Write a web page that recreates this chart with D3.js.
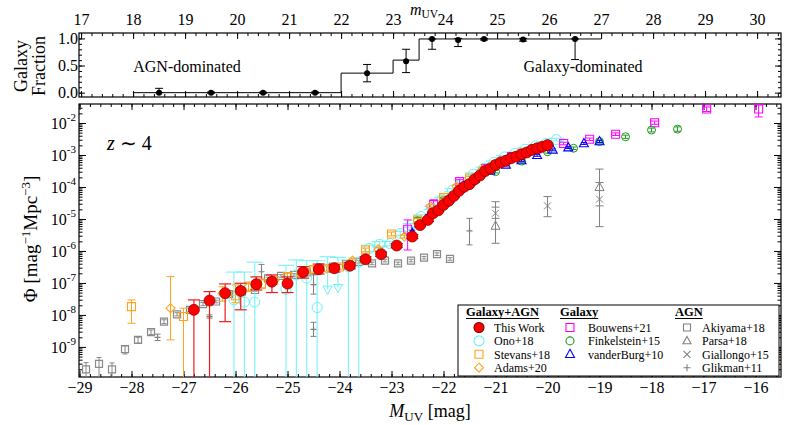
<!DOCTYPE html>
<html>
<head>
<meta charset="utf-8">
<title>UV luminosity function z~4</title>
<script src="https://d3js.org/d3.v7.min.js"></script>
<style>
  body { margin: 0; background: #fff; }
  text { font-family: 'Liberation Serif', 'Times New Roman', serif; }
</style>
</head>
<body>
<script>
// ---- data (M_UV in mag, log10 Phi in mag^-1 Mpc^-3, errors in dex; 9 = down to axis) ----
var thisM = [-26.8,-26.5,-26.2,-25.9,-25.6,-25.3,-25.0,-24.7,-24.4,-24.1,-23.8,-23.5,-23.2,-22.9,-22.6,-22.45,-22.3,
  -22.2,-22.1,-22.0,-21.9,-21.8,-21.7,-21.6,-21.5,-21.4,-21.3,-21.2,-21.1,-21.0,-20.9,-20.8,-20.7,-20.6,-20.5,-20.4,-20.3,-20.2,-20.1,-20.0];
var thisLog = [-7.84,-7.55,-7.32,-7.25,-7.04,-6.96,-7.02,-6.66,-6.57,-6.54,-6.46,-6.26,-6.10,-5.83,-5.55,-5.19,-5.03,
  -4.82,-4.73,-4.56,-4.43,-4.28,-4.12,-3.99,-3.91,-3.76,-3.64,-3.50,-3.42,-3.31,-3.23,-3.18,-3.10,-3.05,-2.98,-2.92,-2.84,-2.79,-2.74,-2.69];
var thisUp = [0.31,0.28,0.29,0.24,0.23,0.21,0.21,0.17,0.16,0.12,0.10,0.08,0.07,0.06,0.06,0.05,0.05,
  0.04,0.04,0.04,0.04,0.04,0.04,0.04,0.04,0.03,0.03,0.03,0.03,0.03,0.03,0.03,0.03,0.03,0.03,0.03,0.03,0.03,0.03,0.03];
var thisLo = [9,9,0.89,0.59,0.18,0.34,0.28,0.19,0.15,0.12,0.10,0.08,0.07,0.06,0.06,0.05,0.05,
  0.04,0.04,0.04,0.04,0.04,0.04,0.04,0.04,0.03,0.03,0.03,0.03,0.03,0.03,0.03,0.03,0.03,0.03,0.03,0.03,0.03,0.03,0.03];

var onoM = [-26.03,-25.83,-25.63,-25.03,-24.83,-24.63,-24.43,-24.23,-24.03,-23.83,-23.63,-23.43,-23.23,-23.03,-22.83,
  -22.63,-22.43,-22.23,-22.03,-21.83,-21.63,-21.43,-21.23,-21.03,-20.83,-20.63,-20.43,-20.23,-20.03,-19.83];
var onoLog = [-7.53,-7.60,-7.60,-7.20,-6.75,-6.85,-7.77,-7.20,-7.15,-6.50,-6.35,-5.92,-5.79,-5.77,-5.45,
  -5.20,-4.92,-4.65,-4.38,-4.10,-3.85,-3.60,-3.42,-3.23,-3.06,-2.95,-2.82,-2.72,-2.64,-2.52];
var onoUp = [0.87,0.94,1.25,0.75,0.47,0.55,1.47,1.02,0.95,0.22,0.10,0.10,0.08,0.07,0.06,
  0.06,0.05,0.05,0.05,0.05,0.05,0.04,0.04,0.04,0.04,0.04,0.04,0.04,0.04,0.04];
var onoLo = [9,9,9,9,9,9,9,0,0,9,9,0.10,0.08,0.07,0.06,
  0.06,0.05,0.05,0.05,0.05,0.05,0.04,0.04,0.04,0.04,0.04,0.04,0.04,0.04,0.04];
var onoLimit = [0,0,0,0,0,0,0,1,1,0,0,0,0,0,0,0,0,0,0,0,0,0,0,0,0,0,0,0,0,0];

var stevM = [-28.0,-27.0,-26.0,-25.5,-25.0,-24.5,-24.0,-23.5,-23.0,-22.5,-22.0,-21.5,-21.0,-20.5];
var stevLog = [-7.74,-8.05,-7.40,-7.03,-6.80,-6.58,-6.50,-5.97,-5.47,-5.03,-4.33,-3.72,-3.30,-2.95];
var stevUp = [0.21,0.26,0.34,0.15,0.10,0.08,0.07,0.06,0.06,0.05,0.05,0.05,0.05,0.05];
var stevLo = [0.52,9,0.22,0.15,0.10,0.08,0.07,0.06,0.06,0.05,0.05,0.05,0.05,0.05];

var adamsM = [-27.25,-26.25,-25.75,-25.25,-24.75,-24.25,-23.75,-23.25,-22.75,-22.25,-21.75,-21.25];
var adamsLog = [-7.79,-7.32,-7.12,-6.92,-6.72,-6.55,-6.30,-5.95,-5.55,-4.60,-3.98,-3.45];
var adamsUp = [0.99,0.20,0.15,0.12,0.10,0.08,0.07,0.06,0.05,0.05,0.05,0.05];
var adamsLo = [0.99,0.25,0.15,0.12,0.10,0.08,0.07,0.06,0.05,0.05,0.05,0.05];

var bouM = [-22.69,-22.19,-21.69,-21.19,-20.69,-20.19,-19.69,-19.19,-18.69,-17.94,-16.94,-15.94];
var bouLog = [-5.32,-4.55,-3.83,-3.42,-3.05,-2.80,-2.64,-2.51,-2.35,-1.99,-1.56,-1.56];
var bouUp = [0.29,0.15,0.07,0.05,0.04,0.04,0.04,0.04,0.04,0.05,0.06,0.14];
var bouLo = [0.65,0.20,0.08,0.05,0.04,0.04,0.04,0.04,0.04,0.05,0.08,0.25];

var finkM = [-22.5,-22.0,-21.5,-21.0,-20.5,-20.0,-19.5,-19.0,-18.5,-18.0,-17.5];
var finkLog = [-5.05,-4.42,-3.95,-3.52,-3.19,-2.90,-2.79,-2.58,-2.43,-2.22,-2.19];
var finkErr = [0.10,0.06,0.05,0.04,0.04,0.04,0.04,0.05,0.05,0.06,0.07];

var vdbM = [-22.6,-22.3,-22.0,-21.7,-21.4,-21.1,-20.8,-20.5,-20.2,-19.9,-19.6,-19.3,-19.0];
var vdbLog = [-5.45,-4.95,-4.50,-4.05,-3.75,-3.50,-3.31,-3.17,-3.01,-2.84,-2.77,-2.64,-2.58];
var vdbErr = [0.10,0.08,0.06,0.05,0.04,0.04,0.03,0.03,0.03,0.03,0.03,0.03,0.03];

var akiM = [-28.875,-28.625,-28.375,-28.125,-27.875,-27.625,-27.375,-27.125,-26.875,-26.625,-26.375,-26.125,-25.875,-25.625,
  -25.375,-25.125,-24.875,-24.625,-24.375,-24.125,-23.875,-23.625,-23.375,-23.125,-22.875,-22.625,-22.375,-22.125,-21.875];
var akiLog = [-9.70,-9.53,-9.70,-9.07,-8.78,-8.54,-8.21,-7.98,-7.84,-7.66,-7.58,-7.35,-7.27,-7.22,
  -6.86,-6.78,-6.75,-6.67,-6.51,-6.49,-6.41,-6.34,-6.39,-6.30,-6.39,-6.30,-6.21,-6.10,-6.25];
var akiUp = [0.21,0.20,0.20,0.10,0.08,0.07,0.06,0.05,0.05,0.05,0.04,0.04,0.04,0.04,
  0.04,0.04,0.04,0.04,0.04,0.04,0.04,0.04,0.04,0.04,0.04,0.04,0.04,0.04,0.04];
var akiLo = [9,9,9,0.15,0.10,0.07,0.06,0.05,0.05,0.05,0.04,0.04,0.04,0.04,
  0.04,0.04,0.04,0.04,0.04,0.04,0.04,0.04,0.04,0.04,0.04,0.04,0.04,0.04,0.04];

var parsaM = [-21.0,-19.0];
var parsaLog = [-5.22,-4.01];
var parsaUp = [0.76,0.57];
var parsaLo = [0.54,1.23];

var gialM = [-21.0,-20.0,-19.0];
var gialLog = [-4.82,-4.59,-4.38];
var gialUp = [0.19,0.29,0.52];
var gialLo = [0.16,0.34,0.21];

var glikM = [-27.5,-26.5,-25.5,-24.5,-24.5,-21.5];
var glikLog = [-8.70,-8.05,-6.65,-7.05,-8.45,-5.37];
var glikUp = [0.10,0.05,0.23,0.30,0.22,0.39];
var glikLo = [0.10,0.05,0.23,0.30,0.22,0.44];

// galaxy fraction (apparent magnitude)
var fracEdges = [18, 22, 23, 23.5, 27];
var fracLevels = [0.0, 0.36, 0.60, 0.99];
var fracPtM = [18.5, 19.5, 20.5, 21.5, 22.5, 23.25, 23.75, 24.25, 24.75, 25.5, 26.5];
var fracPt = [0.0, 0.0, 0.0, 0.0, 0.36, 0.58, 0.99, 0.97, 0.99, 0.98, 0.99];
var fracUp = [0.08, 0.01, 0.01, 0.01, 0.16, 0.22, 0.0, 0.03, 0.01, 0.02, 0.0];
var fracLo = [0.0, 0.01, 0.01, 0.01, 0.16, 0.21, 0.19, 0.12, 0.02, 0.03, 0.38];

var xMajor = [-29,-28,-27,-26,-25,-24,-23,-22,-21,-20,-19,-18,-17,-16];
var mMajor = [17,18,19,20,21,22,23,24,25,26,27,28,29,30];
var yExp = [-9,-8,-7,-6,-5,-4,-3,-2];
var fracTicks = [0.0, 0.5, 1.0];

// ---- layout ----
var W = 789, H = 425;
var P = {l: 79, r: 781, t: 104, b: 377};
var T = {l: 79, r: 781, t: 33, b: 97};
var mOff = 45.97;

var x = d3.scaleLinear().domain([-29.01, -15.51]).range([P.l, P.r]);
var xm = d3.scaleLinear().domain([-29.01 + mOff, -15.51 + mOff]).range([T.l, T.r]);
var y = d3.scaleLog().domain([Math.pow(10, -9.94), Math.pow(10, -1.406)]).range([P.b, P.t]);
var yF = d3.scaleLinear().domain([-0.08, 1.1]).range([T.b, T.t]);

var svg = d3.select('body').append('svg').attr('width', W).attr('height', H);

svg.append('clipPath').attr('id', 'clipP').append('rect')
  .attr('x', P.l).attr('y', P.t).attr('width', P.r - P.l).attr('height', P.b - P.t);

function range(a, b, s) {
  var out = [];
  for (var v = a; v <= b + 1e-9; v += s) out.push(Math.round(v * 1000) / 1000);
  return out;
}
var minorM = range(-29, -15.6, 0.2);
var minorm = range(17, 30.4, 0.2);
var minorF = range(0, 1.0, 0.1);
var minorLog = [];
for (var e = -10; e <= -2; e++) for (var k = 2; k <= 9; k++) {
  var v = k * Math.pow(10, e);
  if (v > y.domain()[0] && v < y.domain()[1]) minorLog.push(v);
}

// tick helper: inward ticks, no domain line
function tickAxis(gen, scale, vals, len, tx, ty, fmt, pad) {
  var g = svg.append('g').attr('transform', 'translate(' + tx + ',' + ty + ')')
    .call(gen(scale).tickValues(vals).tickSize(-len).tickPadding(pad || 4).tickFormat(fmt || ''));
  g.select('.domain').remove();
  g.selectAll('line').attr('stroke', '#000').attr('stroke-width', 1);
  g.selectAll('text').style('font-size', '16px').attr('fill', '#000');
  return g;
}
var minus = function (d) { return String(d).replace('-', '\u2212'); };

// ---- bottom panel axes ----
tickAxis(d3.axisBottom, x, minorM, 3, 0, P.b);
tickAxis(d3.axisBottom, x, xMajor, 6, 0, P.b, minus, 5);
tickAxis(d3.axisTop, x, minorM, 3, 0, P.t);
tickAxis(d3.axisTop, x, xMajor, 6, 0, P.t);
tickAxis(d3.axisLeft, y, minorLog, 3.5, P.l, 0);
tickAxis(d3.axisLeft, y, yExp.map(function (p) { return Math.pow(10, p); }), 7, P.l, 0, function () { return ''; }, 3);
tickAxis(d3.axisRight, y, minorLog, 3.5, P.r, 0);
tickAxis(d3.axisRight, y, yExp.map(function (p) { return Math.pow(10, p); }), 7, P.r, 0);

// log labels 10^n
var yLab = svg.append('g');
yExp.forEach(function (p) {
  var t = yLab.append('text').attr('x', P.l - 3).attr('y', y(Math.pow(10, p)) + 6)
    .attr('text-anchor', 'end').style('font-size', '16px');
  t.append('tspan').text('10');
  t.append('tspan').attr('dy', -8).style('font-size', '11px').text(String(p));
});

// ---- top panel axes ----
tickAxis(d3.axisTop, xm, minorm, 3, 0, T.t);
tickAxis(d3.axisTop, xm, mMajor, 6, 0, T.t, String, 8);
tickAxis(d3.axisBottom, xm, minorm, 3, 0, T.b);
tickAxis(d3.axisBottom, xm, mMajor, 6, 0, T.b);
tickAxis(d3.axisLeft, yF, minorF, 3, T.l, 0);
tickAxis(d3.axisLeft, yF, fracTicks, 6, T.l, 0, d3.format('.1f'), 1);
tickAxis(d3.axisRight, yF, minorF, 3, T.r, 0);
tickAxis(d3.axisRight, yF, fracTicks, 6, T.r, 0);

svg.append('rect').attr('x', P.l).attr('y', P.t).attr('width', P.r - P.l).attr('height', P.b - P.t)
  .attr('fill', 'none').attr('stroke', '#000').attr('stroke-width', 1.2);
svg.append('rect').attr('x', T.l).attr('y', T.t).attr('width', T.r - T.l).attr('height', T.b - T.t)
  .attr('fill', 'none').attr('stroke', '#000').attr('stroke-width', 1.2);

// ---- markers ----
function shape(type, s) {
  if (type === 'circle') return 'M' + (-s) + ',0a' + s + ',' + s + ' 0 1,0 ' + (2 * s) + ',0a' + s + ',' + s + ' 0 1,0 ' + (-2 * s) + ',0Z';
  if (type === 'square') return 'M' + (-s) + ',' + (-s) + 'H' + s + 'V' + s + 'H' + (-s) + 'Z';
  if (type === 'diamond') return 'M0,' + (-s) + 'L' + s + ',0L0,' + s + 'L' + (-s) + ',0Z';
  if (type === 'tri') return 'M0,' + (-s) + 'L' + (s * 0.9) + ',' + (s * 0.65) + 'L' + (-s * 0.9) + ',' + (s * 0.65) + 'Z';
  if (type === 'tridown') return 'M0,' + s + 'L' + (s * 0.9) + ',' + (-s * 0.65) + 'L' + (-s * 0.9) + ',' + (-s * 0.65) + 'Z';
  if (type === 'x') return 'M' + (-s) + ',' + (-s) + 'L' + s + ',' + s + 'M' + (-s) + ',' + s + 'L' + s + ',' + (-s);
  if (type === 'plus') return 'M' + (-s) + ',0H' + s + 'M0,' + (-s) + 'V' + s;
}

var plot = svg.append('g').attr('clip-path', 'url(#clipP)');

function drawSeries(o) {
  var g = plot.append('g');
  o.M.forEach(function (m, i) {
    var cx = x(m), L = o.L[i];
    var cy = y(Math.pow(10, L));
    var up = o.up ? o.up[i] : 0, lo = o.lo ? o.lo[i] : 0;
    var yt = y(Math.pow(10, L + up));
    var yb = lo >= 9 ? P.b + 2 : y(Math.pow(10, L - lo));
    var ec = o.ecolor || o.color;
    if (up > 0 || lo > 0) {
      g.append('line').attr('x1', cx).attr('x2', cx).attr('y1', yt).attr('y2', yb)
        .attr('stroke', ec).attr('stroke-width', o.ew || 1).attr('opacity', o.eop || 1);
      var cw = o.cap;
      if (up > 0) g.append('line').attr('x1', cx - cw).attr('x2', cx + cw).attr('y1', yt).attr('y2', yt)
        .attr('stroke', ec).attr('stroke-width', o.ew || 1).attr('opacity', o.eop || 1);
      if (lo > 0 && lo < 9) g.append('line').attr('x1', cx - cw).attr('x2', cx + cw).attr('y1', yb).attr('y2', yb)
        .attr('stroke', ec).attr('stroke-width', o.ew || 1).attr('opacity', o.eop || 1);
    }
    var type = (o.lim && o.lim[i]) ? 'tridown' : o.type;
    g.append('path').attr('d', shape(type, o.size)).attr('transform', 'translate(' + cx + ',' + cy + ')')
      .attr('fill', o.fill || 'none').attr('stroke', o.stroke || o.color).attr('stroke-width', o.sw || 1);
  });
}

// AGN samples (gray)
drawSeries({M: akiM, L: akiLog, up: akiUp, lo: akiLo, type: 'square', size: 3.5, color: '#8a8a8a', cap: 2.5, sw: 1.2});
drawSeries({M: glikM, L: glikLog, up: glikUp, lo: glikLo, type: 'plus', size: 3, color: '#808080', cap: 3, sw: 1.2});
drawSeries({M: parsaM, L: parsaLog, up: parsaUp, lo: parsaLo, type: 'tri', size: 5, color: '#808080', cap: 4});
drawSeries({M: gialM, L: gialLog, up: gialUp, lo: gialLo, type: 'x', size: 3.5, color: '#808080', cap: 4});
// galaxy + AGN / galaxy samples
drawSeries({M: onoM, L: onoLog, up: onoUp, lo: onoLo, lim: onoLimit, type: 'circle', size: 5, color: '#66f2f7', cap: 8, ew: 1.2, eop: 0.8});
drawSeries({M: bouM, L: bouLog, up: bouUp, lo: bouLo, type: 'square', size: 4, color: '#ff00ff', cap: 4, sw: 1.1});
drawSeries({M: finkM, L: finkLog, up: finkErr, lo: finkErr, type: 'circle', size: 4, color: '#1f9a1f', cap: 3});
drawSeries({M: vdbM, L: vdbLog, up: vdbErr, lo: vdbErr, type: 'tri', size: 5, color: '#0000ff', cap: 3, sw: 1.1});
drawSeries({M: stevM, L: stevLog, up: stevUp, lo: stevLo, type: 'square', size: 4, color: '#ffa31a', cap: 4, sw: 1.1});
drawSeries({M: adamsM, L: adamsLog, up: adamsUp, lo: adamsLo, type: 'diamond', size: 4.5, color: '#ffa31a', cap: 4, sw: 1.1});
drawSeries({M: thisM, L: thisLog, up: thisUp, lo: thisLo, type: 'circle', size: 5.5, color: '#ff0000',
  fill: '#ff0000', stroke: '#7a0000', sw: 0.7, ecolor: '#ee1c1c', cap: 6, ew: 1.2});

// ---- top panel: galaxy fraction ----
var stepData = fracEdges.map(function (m, i) { return [m, fracLevels[Math.min(i, fracLevels.length - 1)]]; });
svg.append('path').datum(stepData)
  .attr('d', d3.line().x(function (d) { return xm(d[0]); }).y(function (d) { return yF(d[1]); }).curve(d3.curveStepAfter))
  .attr('fill', 'none').attr('stroke', '#000').attr('stroke-width', 1);
var fg = svg.append('g');
fracPtM.forEach(function (m, i) {
  var cx = xm(m), cy = yF(fracPt[i]);
  var yt = yF(fracPt[i] + fracUp[i]), yb = yF(fracPt[i] - fracLo[i]);
  fg.append('line').attr('x1', cx).attr('x2', cx).attr('y1', yt).attr('y2', yb).attr('stroke', '#000');
  [yt, yb].forEach(function (yy) {
    fg.append('line').attr('x1', cx - 4).attr('x2', cx + 4).attr('y1', yy).attr('y2', yy).attr('stroke', '#000');
  });
  fg.append('circle').attr('cx', cx).attr('cy', cy).attr('r', 3).attr('fill', '#000');
});

svg.append('text').attr('x', 187).attr('y', 72).attr('text-anchor', 'middle').style('font-size', '16px').text('AGN-dominated');
svg.append('text').attr('x', 583).attr('y', 72).attr('text-anchor', 'middle').style('font-size', '16px').text('Galaxy-dominated');

// ---- titles ----
var mt = svg.append('text').attr('x', 424).attr('y', 14.5).attr('text-anchor', 'middle').style('font-size', '16px');
mt.append('tspan').style('font-style', 'italic').text('m');
mt.append('tspan').attr('dy', 3).style('font-size', '11.5px').text('UV');

var xt = svg.append('text').attr('x', 430).attr('y', 417).attr('text-anchor', 'middle').style('font-size', '18px');
xt.append('tspan').style('font-style', 'italic').text('M');
xt.append('tspan').attr('dy', 4).style('font-size', '13px').text('UV');
xt.append('tspan').attr('dy', -4).text(' [mag]');

var yt = svg.append('text').attr('transform', 'translate(37,239) rotate(-90)').attr('text-anchor', 'middle').style('font-size', '19px');
yt.append('tspan').text('\u03A6 [mag');
yt.append('tspan').attr('dy', -7).style('font-size', '13px').text('\u22121');
yt.append('tspan').attr('dy', 7).text('Mpc');
yt.append('tspan').attr('dy', -7).style('font-size', '13px').text('\u22123');
yt.append('tspan').attr('dy', 7).text(']');

svg.append('text').attr('transform', 'translate(27,66) rotate(-90)').attr('text-anchor', 'middle').style('font-size', '18px').text('Galaxy');
svg.append('text').attr('transform', 'translate(45,66) rotate(-90)').attr('text-anchor', 'middle').style('font-size', '18px').text('Fraction');

var zt = svg.append('text').attr('x', 107).attr('y', 150).style('font-size', '20px');
zt.append('tspan').style('font-style', 'italic').text('z');
zt.append('tspan').text(' \u223C 4');

// ---- legend ----
var lg = svg.append('g');
lg.append('rect').attr('x', 458).attr('y', 305).attr('width', 321).attr('height', 71)
  .attr('fill', '#fff').attr('stroke', '#000').attr('stroke-width', 1);
var heads = [['Galaxy+AGN', 466], ['Galaxy', 560], ['AGN', 675]];
heads.forEach(function (h) {
  var t = lg.append('text').attr('x', h[1]).attr('y', 315.5).style('font-size', '12.5px').style('font-weight', 'bold').text(h[0]);
  var w = t.node().getComputedTextLength();
  lg.append('line').attr('x1', h[1]).attr('x2', h[1] + w).attr('y1', 318.5).attr('y2', 318.5).attr('stroke', '#000');
});
var legendRows = [
  {c: 0, r: 0, label: 'This Work', type: 'circle', size: 5, color: '#ff0000', fill: '#ff0000', stroke: '#7a0000'},
  {c: 0, r: 1, label: 'Ono+18', type: 'circle', size: 5, color: '#66f2f7'},
  {c: 0, r: 2, label: 'Stevans+18', type: 'square', size: 4, color: '#ffa31a'},
  {c: 0, r: 3, label: 'Adams+20', type: 'diamond', size: 4.5, color: '#ffa31a'},
  {c: 1, r: 0, label: 'Bouwens+21', type: 'square', size: 4, color: '#ff00ff'},
  {c: 1, r: 1, label: 'Finkelstein+15', type: 'circle', size: 4, color: '#1f9a1f'},
  {c: 1, r: 2, label: 'vanderBurg+10', type: 'tri', size: 5, color: '#0000ff'},
  {c: 2, r: 0, label: 'Akiyama+18', type: 'square', size: 3.5, color: '#808080'},
  {c: 2, r: 1, label: 'Parsa+18', type: 'tri', size: 4.5, color: '#808080'},
  {c: 2, r: 2, label: 'Giallongo+15', type: 'x', size: 3.5, color: '#808080'},
  {c: 2, r: 3, label: 'Glikman+11', type: 'plus', size: 3.5, color: '#808080'}
];
var colMarker = [479, 570, 687], colText = [494, 588, 702];
legendRows.forEach(function (e) {
  var yy = 327.5 + e.r * 13.4;
  lg.append('path').attr('d', shape(e.type, e.size)).attr('transform', 'translate(' + colMarker[e.c] + ',' + yy + ')')
    .attr('fill', e.fill || 'none').attr('stroke', e.stroke || e.color).attr('stroke-width', 1.1);
  lg.append('text').attr('x', colText[e.c]).attr('y', yy + 4.3).style('font-size', '12px').text(e.label);
});
</script>
</body>
</html>
